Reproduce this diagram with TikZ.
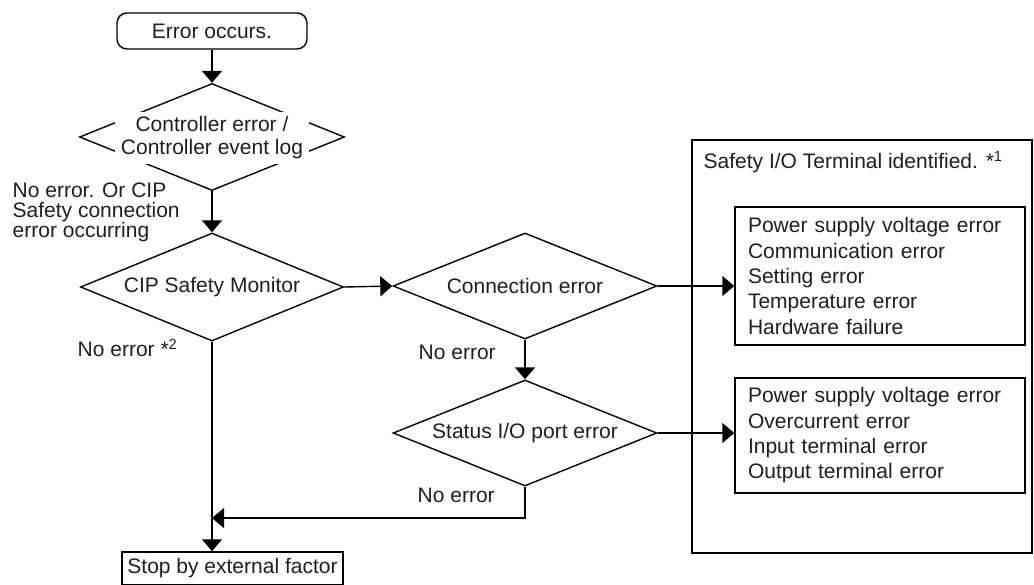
\documentclass[tikz,border=0pt]{standalone}
\usepackage{fontspec}
\setmainfont{Liberation Sans}
\usetikzlibrary{shapes.geometric,arrows.meta}
\begin{document}
\begin{tikzpicture}[x=1pt,y=-1pt, line width=1.4pt,
  every node/.style={font=\fontsize{21}{25.3}\selectfont, text=black!88},
  dec/.style={diamond, draw, aspect=2.5, inner sep=0pt},
  box/.style={rectangle, draw},
  listbox/.style={rectangle, draw, align=left, text width=264pt, inner xsep=13pt},
  arr/.style={-{Triangle[length=12pt,width=20pt]}},
  lbl/.style={anchor=west, align=left, inner sep=0pt}]
\useasboundingbox (0,0) rectangle (1034,584);
% flow nodes
\node[box, rounded corners=10pt, minimum width=190pt, minimum height=36pt] (err) at (212,31) {Error occurs.};
\node[dec, minimum width=265pt, minimum height=107pt] (ctrl) at (212,137) {};
\node[fill=white, align=center, inner xsep=6pt, inner ysep=5pt, font=\fontsize{21}{23}\selectfont] (ctrlt) at (212,138) {Controller error /\\Controller event log};
\node[dec, minimum width=263pt, minimum height=108pt] (cip) at (212,287) {CIP Safety Monitor};
\node[dec, minimum width=264pt, minimum height=106pt] (conn) at (525,286) {Connection error};
\node[dec, minimum width=264pt, minimum height=106pt] (stat) at (525,433) {Status I/O port error};
\node[box, minimum width=221pt, minimum height=33pt] (stop) at (232.5,568.5) {Stop by external factor};
% right side
\node[box, minimum width=340pt, minimum height=413pt] (outer) at (862,346.5) {};
\node[anchor=west, inner sep=0pt] (outt) at (703,162) {Safety I/O Terminal identified. *\textsuperscript{1}};
\node[listbox, minimum height=138pt] (b1) at (880,276) {Power supply voltage error\\Communication error\\Setting error\\Temperature error\\Hardware failure};
\node[listbox, minimum height=115pt] (b2) at (880,435.5) {Power supply voltage error\\Overcurrent error\\Input terminal error\\Output terminal error};
% labels
\node[lbl, font=\fontsize{21}{20}\selectfont] (l1) at (12,212) {No error. Or CIP\\Safety connection\\error occurring};
\node[lbl] (l2) at (77,348) {No error *\textsuperscript{2}};
\node[lbl] (l3) at (418,352) {No error};
\node[lbl] (l4) at (417,495) {No error};
% connectors
\coordinate (m) at (212,518);
\draw[arr] (err.south) -- (ctrl.north);
\draw[arr] (ctrl.south) -- (cip.north);
\draw[arr] (cip.east) -- (conn.west);
\draw[arr] (conn.east) -- (conn.east -| b1.west);
\draw[arr] (conn.south) -- (stat.north);
\draw[arr] (stat.east) -- (stat.east -| b2.west);
\draw[arr] (stat.south) |- (m);
\draw[arr] (cip.south) -- (cip.south |- stop.north);
\end{tikzpicture}
\end{document}
